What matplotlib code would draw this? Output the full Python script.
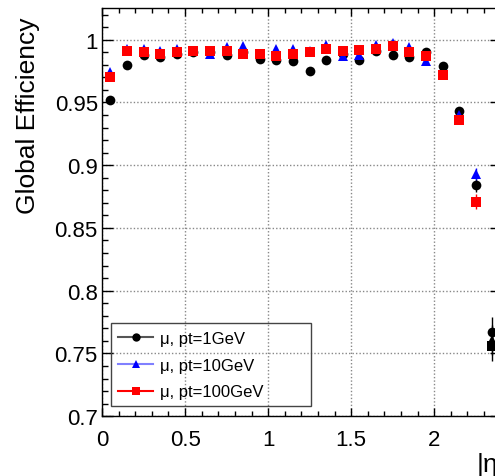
import matplotlib
matplotlib.use("Agg")
import matplotlib.pyplot as plt
from matplotlib.lines import Line2D
from matplotlib.patches import Rectangle
from matplotlib.ticker import MultipleLocator, FuncFormatter

plt.rcParams['font.family'] = ['Liberation Sans', 'DejaVu Sans']

# |eta| bin centres
eta = [0.05, 0.15, 0.25, 0.35, 0.45, 0.55, 0.65, 0.75, 0.85, 0.95, 1.05, 1.15,
       1.25, 1.35, 1.45, 1.55, 1.65, 1.75, 1.85, 1.95, 2.05, 2.15, 2.25, 2.35]

# global efficiency per muon pt sample
eff_1gev = [0.952, 0.980, 0.988, 0.986, 0.989, 0.990, 0.990, 0.988, 0.990, 0.985, 0.984, 0.983,
            0.975, 0.984, 0.989, 0.984, 0.991, 0.988, 0.986, 0.990, 0.979, 0.943, 0.884, 0.767]
eff_10gev = [0.974, 0.993, 0.993, 0.991, 0.993, 0.991, 0.989, 0.994, 0.995, 0.989, 0.993, 0.993,
             0.991, 0.996, 0.987, 0.988, 0.996, 0.997, 0.994, 0.983, 0.972, 0.940, 0.893, 0.761]
eff_100gev = [0.970, 0.991, 0.990, 0.989, 0.990, 0.991, 0.991, 0.991, 0.989, 0.989, 0.987, 0.989,
              0.990, 0.993, 0.991, 0.992, 0.993, 0.995, 0.990, 0.987, 0.972, 0.936, 0.871, 0.756]

err_1gev = [0.003, 0.002, 0.002, 0.002, 0.002, 0.002, 0.002, 0.002, 0.002, 0.002, 0.002, 0.002,
            0.002, 0.002, 0.002, 0.002, 0.002, 0.002, 0.002, 0.002, 0.002, 0.003, 0.005, 0.012]
err_10gev = [0.002, 0.001, 0.001, 0.001, 0.001, 0.001, 0.001, 0.001, 0.001, 0.001, 0.001, 0.001,
             0.001, 0.001, 0.001, 0.001, 0.001, 0.001, 0.001, 0.001, 0.002, 0.003, 0.005, 0.012]
err_100gev = [0.002, 0.001, 0.001, 0.001, 0.001, 0.001, 0.001, 0.001, 0.001, 0.001, 0.001, 0.001,
              0.001, 0.001, 0.001, 0.001, 0.001, 0.001, 0.001, 0.001, 0.002, 0.003, 0.006, 0.012]

labels = ['μ, pt=1GeV', 'μ, pt=10GeV', 'μ, pt=100GeV']

fig = plt.figure(figsize=(4.95, 4.77), dpi=100)
ax = fig.add_axes([0.2061, 0.1254, 0.8053, 0.8558])

series = [
    (eff_1gev, err_1gev, 'black', 'o', 7),
    (eff_10gev, err_10gev, 'blue', '^', 7),
    (eff_100gev, err_100gev, 'red', 's', 7),
]

for eff, err, col, mk, ms in series:
    ax.errorbar(eta[:-1], eff[:-1], yerr=err[:-1], fmt=mk, color=col, ms=ms,
                mew=0, elinewidth=1, capsize=0, zorder=3)
    # last bin sits on the frame edge and comes out black
    ax.errorbar(eta[-1:], eff[-1:], yerr=err[-1:], fmt=mk, color='black', ms=ms,
                mew=0, elinewidth=1, capsize=0, zorder=3)

ax.set_xlim(0, 2.4)
ax.set_ylim(0.7, 1.0253)

ax.xaxis.set_major_locator(MultipleLocator(0.5))
ax.xaxis.set_minor_locator(MultipleLocator(0.1))
ax.yaxis.set_major_locator(MultipleLocator(0.05))
ax.yaxis.set_minor_locator(MultipleLocator(0.01))
ax.xaxis.set_major_formatter(FuncFormatter(lambda v, p: '%g' % round(v, 3)))
ax.yaxis.set_major_formatter(FuncFormatter(lambda v, p: '%g' % round(v, 3)))

ax.tick_params(axis='both', which='both', direction='in', top=True, right=True, width=1)
ax.tick_params(axis='x', which='major', length=6, pad=9, labelsize=16)
ax.tick_params(axis='x', which='minor', length=3.5)
ax.tick_params(axis='y', which='major', length=8, pad=3, labelsize=16)
ax.tick_params(axis='y', which='minor', length=4.5)

ax.grid(True, which='major', color='#888888', linestyle=(0, (1, 1.5)), linewidth=1)
ax.set_axisbelow(True)
for sp in ax.spines.values():
    sp.set_linewidth(1)

fig.text(0.056, 1 - 17 / 477, 'Global Efficiency', rotation=90, fontsize=19,
         ha='center', va='top')
fig.text(0.962, 1 - 465 / 477, '|η|', fontsize=19, ha='left', va='center')

# legend box
fig.patches.append(Rectangle((111 / 495, 1 - 407 / 477), 200 / 495, 83 / 477,
                             transform=fig.transFigure, fill=False,
                             edgecolor='#444444', linewidth=1, zorder=5))
handles = [
    Line2D([], [], color='#555555', marker='o', ms=6, mew=0, markerfacecolor='black'),
    Line2D([], [], color='#8080ff', marker='^', ms=6, mew=0, markerfacecolor='blue'),
    Line2D([], [], color='red', marker='s', ms=6, mew=0),
]
ax.legend(handles, labels, loc='upper left', bbox_to_anchor=(118 / 495, 1 - 332 / 477),
          bbox_transform=fig.transFigure, frameon=False, fontsize=12,
          handlelength=2.1, handletextpad=0.4, labelspacing=0.7,
          borderpad=0, borderaxespad=0)

fig.savefig('out.png', dpi=100)
